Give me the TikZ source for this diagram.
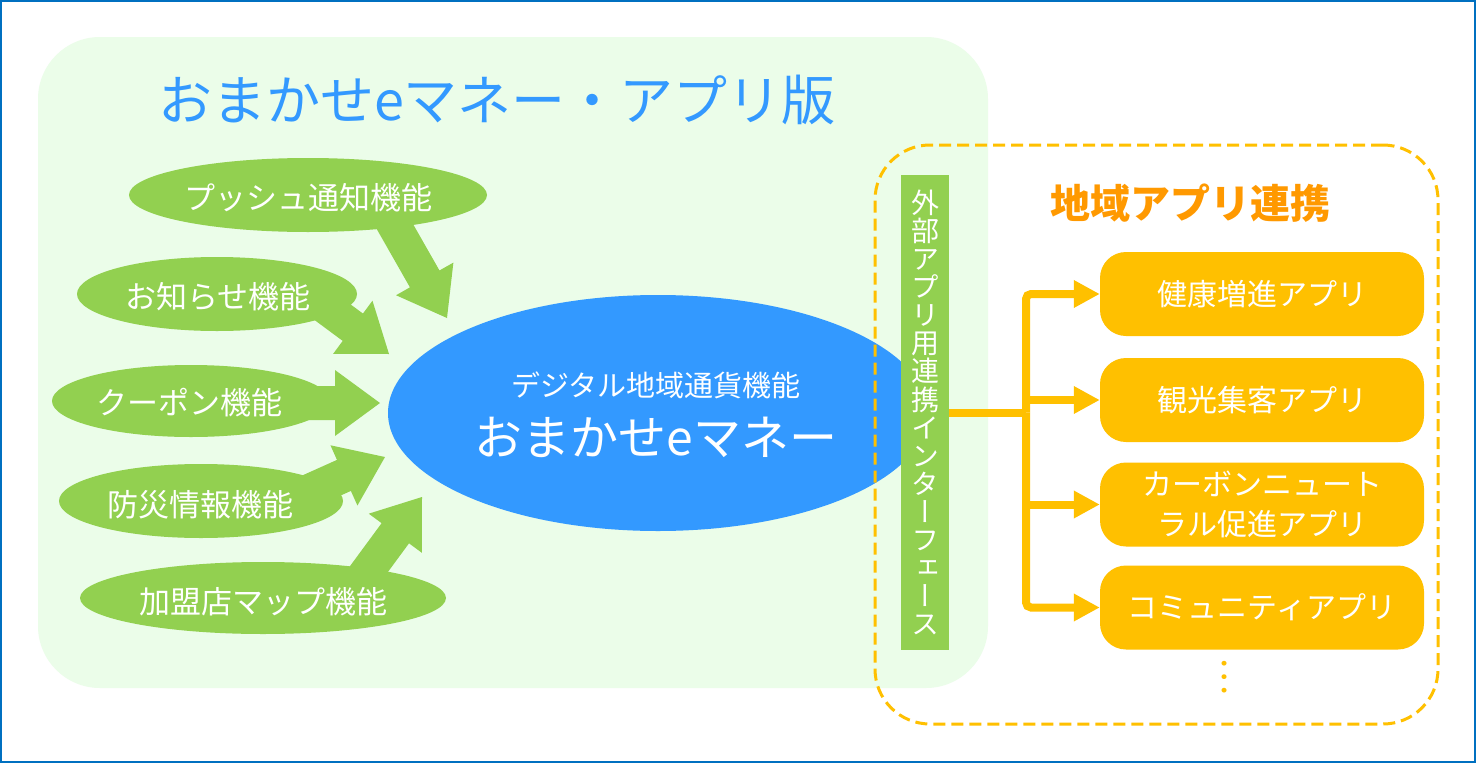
\documentclass[tikz,border=0pt]{standalone}
\usepackage{fontspec}
\setmainfont{Noto Sans CJK JP}
\newfontfamily\vjp{Noto Sans CJK JP}[RawFeature=+vert]
\usetikzlibrary{shapes.geometric,calc,arrows.meta}
\definecolor{bordc}{RGB}{0,112,192}
\definecolor{lgreen}{RGB}{235,253,233}
\definecolor{fgreen}{RGB}{146,208,80}
\definecolor{eblue}{RGB}{51,153,255}
\definecolor{appy}{RGB}{255,192,0}
\definecolor{torange}{RGB}{255,153,0}
\newcommand\fs[1]{\fontsize{#1}{#1}\selectfont}
\newcommand\vtxtfont{\vjp\fontsize{28}{28.1}\selectfont\lineskiplimit -30pt\relax}
\newcommand\featarrow[2]{%
  \coordinate (ah) at ($(#2)!45pt!(#1)$);
  \fill[garrow] ($(#1)!17pt!90:(#2)$) -- ($(ah)!17pt!90:(#2)$) -- ($(ah)!33pt!90:(#2)$) -- (#2)
    -- ($(ah)!33pt!-90:(#2)$) -- ($(ah)!17pt!-90:(#2)$) -- ($(#1)!17pt!-90:(#2)$) -- cycle;}
\begin{document}
\begin{tikzpicture}[x=1pt,y=-1pt,
  feat/.style={ellipse, fill=fgreen, inner sep=0pt, text=white, font=\fs{31}},
  appbox/.style={rounded corners=26pt, fill=appy, minimum width=324pt, minimum height=84pt,
     text=white, font=\fontsize{30}{40}\selectfont, align=center, inner sep=0pt},
  garrow/.style={fill=fgreen},
  yline/.style={draw=appy, line width=8pt},
  yarrow/.style={yline, -{Triangle[length=26pt,width=26pt]}}]
\useasboundingbox (0,0) rectangle (1476,763);
\draw[bordc, line width=2pt, fill=white] (1,1) rectangle (1475,762);
% app frame
\node[fill=lgreen, rounded corners=62pt, minimum width=950pt, minimum height=651pt, inner sep=0pt] (appframe) at (513,362.5) {};
% arrows
\coordinate (a1s) at (390,218); \coordinate (a1t) at (447,318);
\coordinate (a2s) at (312,297); \coordinate (a2t) at (389,354);
\coordinate (a3s) at (300,403); \coordinate (a3t) at (380,403);
\coordinate (a4s) at (298,496); \coordinate (a4t) at (385,457);
\coordinate (a5s) at (355,588); \coordinate (a5t) at (422,497);
\featarrow{a1s}{a1t}
\featarrow{a2s}{a2t}
\featarrow{a3s}{a3t}
\featarrow{a4s}{a4t}
\featarrow{a5s}{a5t}
% feature ellipses
\node[feat, minimum width=358pt, minimum height=74pt] (f1) at (308,195) {};
\node[text=white, font=\fs{31}] (f1t) at (308,198) {プッシュ通知機能};
\node[feat, minimum width=280pt, minimum height=74pt] (f2) at (217,294) {};
\node[text=white, font=\fs{31}] (f2t) at (218,297) {お知らせ機能};
\node[feat, minimum width=278pt, minimum height=72pt] (f3) at (191,401) {};
\node[text=white, font=\fs{31}] (f3t) at (189,403) {クーポン機能};
\node[feat, minimum width=284pt, minimum height=74pt] (f4) at (201,501) {};
\node[text=white, font=\fs{31}] (f4t) at (200,505) {防災情報機能};
\node[feat, minimum width=366pt, minimum height=72pt] (f5) at (263,598) {};
\node[text=white, font=\fs{31}] (f5t) at (263,602) {加盟店マップ機能};
% core
\node[ellipse, fill=eblue, minimum width=540pt, minimum height=236pt, inner sep=0pt] (core) at (658,413) {};
\node[text=white, font=\fs{29}] (coresub) at (656,385) {デジタル地域通貨機能};
\node[text=white, font=\fs{48}] (coremain) at (656,437) {おまかせeマネー};
% local frame
\node[draw=appy, line width=3pt, dash pattern=on 12pt off 6pt, rounded corners=55pt,
      minimum width=563pt, minimum height=579pt, inner sep=0pt] (localframe) at (1156.5,434.5) {};
% interface bar
\node[fill=fgreen, minimum width=48pt, minimum height=475pt, inner sep=0pt, text=white, align=center,
      font=\vtxtfont] (bar) at (925,412.5)
  {外\\部\\ア\\プ\\リ\\用\\連\\携\\イ\\ン\\タ\\ー\\フ\\ェ\\ー\\ス};
% titles
\node[text=eblue, font=\fs{54}] (title) at (497,100) {おまかせeマネー・アプリ版};
\node[text=torange, font=\bfseries\fs{40}] (ltitle) at (1190,203) {地域アプリ連携};
% app boxes
\node[appbox] (app1) at (1262,294) {健康増進アプリ};
\node[appbox] (app2) at (1262,400) {観光集客アプリ};
\node[appbox] (app3) at (1262,504.5) {カーボンニュート\\ラル促進アプリ};
\node[appbox] (app4) at (1262,607.5) {コミュニティアプリ};
\node[text=appy, font=\fs{36}, rotate=-90, inner sep=0pt] (more) at (1225,677) {…};
% connectors
\coordinate (trunk) at (1026,412.5);
\draw[yline] (bar.east) -- (trunk);
\draw[yarrow, rounded corners=5pt] (trunk) |- (app1.west);
\draw[yarrow] (trunk |- app2.west) -- (app2.west);
\draw[yarrow] (trunk |- app3.west) -- (app3.west);
\draw[yarrow, rounded corners=5pt] (trunk) |- (app4.west);
\end{tikzpicture}
\end{document}
